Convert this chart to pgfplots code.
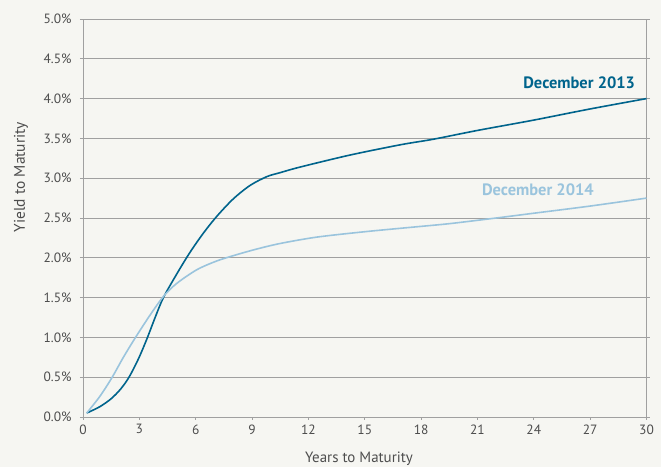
\documentclass[border=0pt]{standalone}
\usepackage{pgfplots}
\pgfplotsset{compat=1.18}
\usepackage{fontspec}
\setmainfont{PT Sans}
\definecolor{bgc}{HTML}{F6F6F2}
\definecolor{gridc}{HTML}{A0A0A0}
\definecolor{txt}{HTML}{4D4D4D}
\definecolor{darkc}{HTML}{00648C}
\definecolor{lightc}{HTML}{9AC4DD}
\begin{document}
\begin{tikzpicture}
\fill[bgc] (-83bp,-50bp) rectangle (578bp,417bp);
\begin{axis}[
  at={(0,0)}, anchor=south west, scale only axis,
  width=563.5bp, height=398bp,
  xmin=0, xmax=30, ymin=0, ymax=5,
  xtick={0,3,6,9,12,15,18,21,24,27,30},
  ytick={0,0.5,1,1.5,2,2.5,3,3.5,4,4.5,5},
  /pgf/number format/assume math mode=true,
  yticklabel={\pgfmathprintnumber[fixed,fixed zerofill,precision=1]{\tick}\%},
  ymajorgrids,
  major grid style={draw=gridc, line width=0.9bp},
  axis line style={draw=gridc, line width=0.9bp},
  tick style={draw=gridc, line width=0.9bp},
  major tick length=3bp,
  tick align=outside,
  xtick pos=left, ytick pos=both,
  ticklabel style={font=\fontsize{13.5}{14}\selectfont, text=txt},
  yticklabel style={xshift=-5bp},
  xticklabel style={yshift=-1bp},
  clip=false,
]
\addplot[darkc, line width=1.6bp, smooth, tension=0.5] coordinates {
(0.2,0.05) (0.9,0.13) (1.5,0.23) (2.0,0.35) (2.45,0.50) (2.95,0.73)
(3.4,0.98) (3.84,1.25) (4.28,1.50) (5.0,1.80) (5.7,2.07) (6.41,2.31)
(7.12,2.52) (8.0,2.74) (8.9,2.91) (9.79,3.02) (10.5,3.07) (11.56,3.14)
(14.2,3.29) (16.9,3.42) (18.66,3.49) (21,3.60) (24,3.73) (27,3.87) (30,4.0)
};
\addplot[lightc, line width=1.6bp, smooth, tension=0.5] coordinates {
(0.2,0.05) (0.9,0.26) (1.53,0.49) (2.15,0.75) (2.77,0.99) (3.57,1.28)
(4.3,1.52) (5.0,1.68) (6.06,1.85) (7.12,1.96) (8.19,2.04) (9.25,2.11)
(10.5,2.18) (12.45,2.26) (15.1,2.33) (17.78,2.39) (19.55,2.43) (22,2.50)
(24,2.56) (27,2.65) (30,2.75)
};
\node[anchor=east, text=darkc, font=\bfseries\fontsize{16.5}{16.5}\selectfont, inner sep=0pt] at (axis cs:29.4,4.2) {December 2013};
\node[anchor=east, text=lightc, font=\bfseries\fontsize{16.5}{16.5}\selectfont, inner sep=0pt] at (axis cs:27.2,2.85) {December 2014};
\end{axis}
\node[rotate=90, text=txt, font=\fontsize{15.5}{16}\selectfont] at (-62bp,240bp) {Yield to Maturity};
\node[text=txt, font=\fontsize{15}{16}\selectfont, inner sep=0pt, anchor=base] at (276bp,-45bp) {Years to Maturity};
\pgfresetboundingbox
\path[use as bounding box] (-83bp,-50bp) rectangle (578bp,417bp);
\end{tikzpicture}
\end{document}
